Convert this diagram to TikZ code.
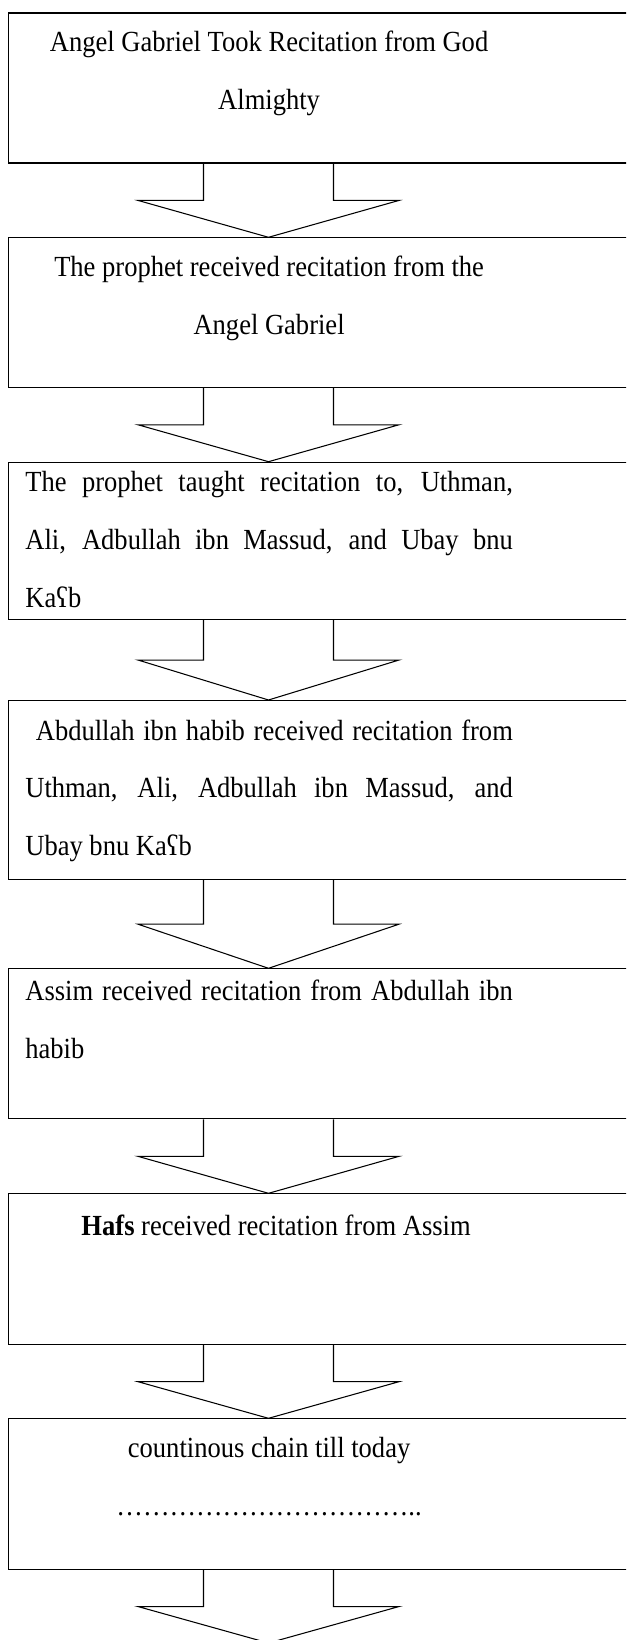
\documentclass[tikz,border=0pt]{standalone}
\usepackage{fontspec}
\setmainfont{Liberation Serif}[FakeStretch=0.91]
\usetikzlibrary{positioning, calc}

% block arrow between two boxes
\newcommand{\flowarrow}[2]{%
  \draw[flow] let \p1=(#1 -| axis), \p2=(#2 -| axis), \p3=($(\p1)!0.5!(\p2)$) in
    (\x1-1.3cm,\y1) -- (\x1-1.3cm,\y3) -- (\x1-2.61cm,\y3) -- (\x2,\y2)
    -- (\x1+2.61cm,\y3) -- (\x1+1.3cm,\y3) -- (\x1+1.3cm,\y1);}

\begin{document}
\begin{tikzpicture}[
    chainbox/.style={rectangle, draw=black, line width=0.6pt, anchor=north west, minimum width=13cm, minimum height=3cm, inner sep=0pt},
    chaintext/.style={anchor=base west, inner sep=0pt, text width=9.75cm, xshift=0.334cm, font=\fontsize{16.6}{33}\selectfont},
    flow/.style={draw=black, line width=0.6pt}
]
\useasboundingbox (0,0) rectangle (12.52,-32.8);
\clip (0,0) rectangle (12.52,-32.8);

\coordinate (axis) at (5.37,0);
\coordinate (chainend) at (5.37,-32.86);

% Boxes
\node[chainbox] (s1) at (0.166,-0.25) {};
\node[chainbox, minimum height=2.99cm] (s2) at (0.166,-4.746) {};
\node[chainbox, minimum height=3.146cm] (s3) at (0.166,-9.234) {};
\node[chainbox, minimum height=3.58cm] (s4) at (0.166,-14.0) {};
\node[chainbox] (s5) at (0.166,-19.366) {};
\node[chainbox, minimum height=3.014cm] (s6) at (0.166,-23.866) {};
\node[chainbox, minimum height=3.014cm] (s7) at (0.166,-28.366) {};

% Texts
\node[chaintext, align=flush center, yshift=-0.78cm] (t1) at (s1.north west) {Angel Gabriel Took Recitation from God\\Almighty};
\node[chaintext, align=flush center, yshift=-0.788cm] (t2) at (s2.north west) {The prophet received recitation from the\\Angel Gabriel};
\node[chaintext, align=justify, yshift=-0.6cm] (t3) at (s3.north west) {The prophet taught recitation to, Uthman, \linebreak Ali, Adbullah ibn Massud, and Ubay bnu \linebreak Kaʕb};
\node[chaintext, align=justify, yshift=-0.8cm] (t4) at (s4.north west) {\hspace*{0.21cm}Abdullah ibn habib received recitation from \linebreak Uthman, Ali, Adbullah ibn Massud, and \linebreak Ubay bnu Kaʕb};
\node[chaintext, align=justify, yshift=-0.634cm] (t5) at (s5.north west) {Assim received recitation from Abdullah ibn \linebreak habib};
\node[chaintext, align=flush center, xshift=0.14cm, yshift=-0.834cm] (t6) at (s6.north west) {\textbf{Hafs} received recitation from Assim};
\node[chaintext, align=flush center, yshift=-0.788cm] (t7) at (s7.north west) {countinous chain till today\\{…}{…}{…}{…}{…}%
{…}{…}{…}{…}{…}%
{…}..};

% Arrows
\flowarrow{s1.south}{s2.north}
\flowarrow{s2.south}{s3.north}
\flowarrow{s3.south}{s4.north}
\flowarrow{s4.south}{s5.north}
\flowarrow{s5.south}{s6.north}
\flowarrow{s6.south}{s7.north}
\flowarrow{s7.south}{chainend}

\end{tikzpicture}
\end{document}
